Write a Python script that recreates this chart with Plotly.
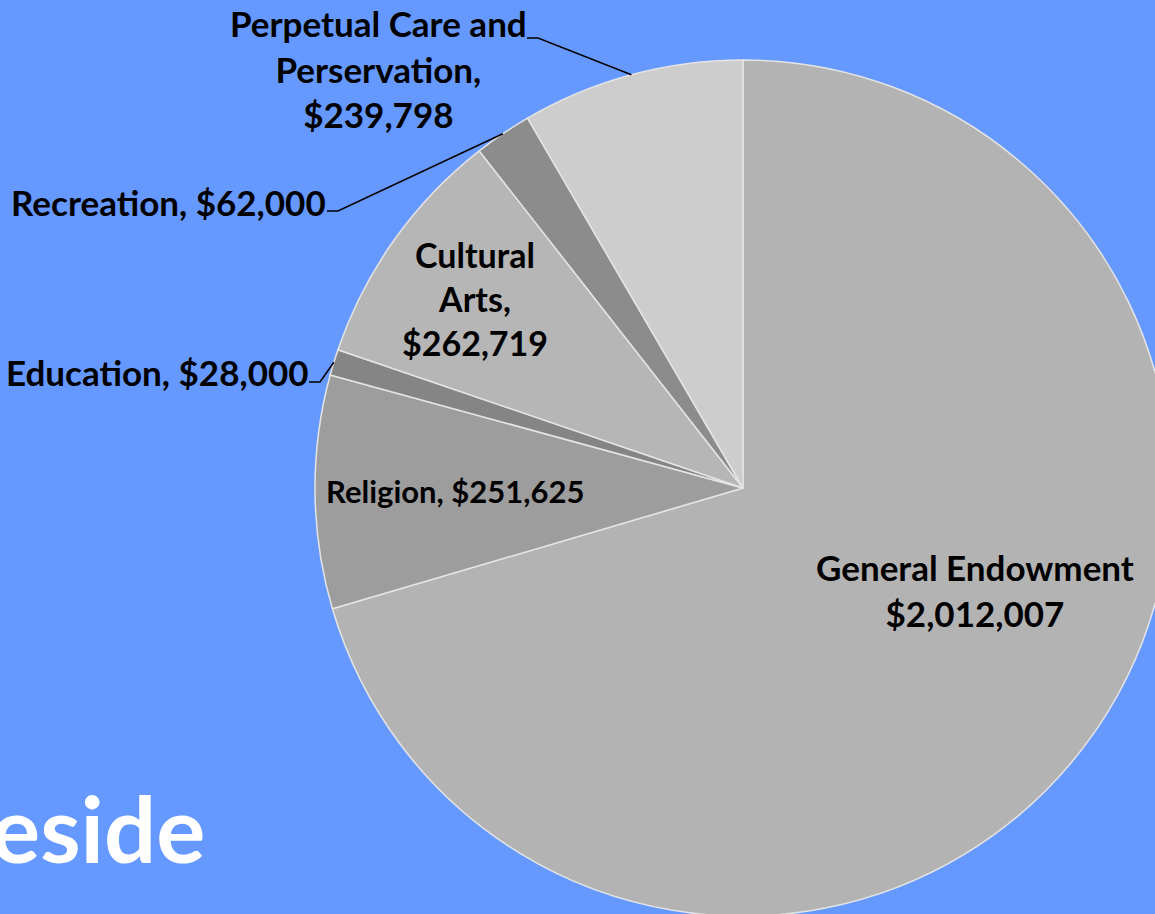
import numpy as np
import plotly.graph_objects as go

# fund data, clockwise from 12 o'clock
funds = ["General Endowment", "Religion", "Education", "Cultural Arts",
         "Recreation", "Perpetual Care and Perservation"]
amounts = [2012007, 251625, 28000, 262719, 62000, 239798]
colors = ["#b3b3b3", "#9d9d9d", "#858585", "#b6b6b6", "#8c8c8c", "#cdcdcd"]

# figure is a bit bigger than the window so the pie runs off the right edge
W, H = 1180, 920
cx, cy, r = 743, 488, 428   # pie centre / radius in px (from top-left)

fig = go.Figure()
fig.add_trace(go.Pie(
    labels=funds,
    values=amounts,
    sort=False,
    direction="clockwise",
    rotation=0,
    textinfo="none",
    hoverinfo="label+value",
    marker=dict(colors=colors, line=dict(color="#e4e4e4", width=1.5)),
    domain=dict(x=[(cx - r) / W, (cx + r) / W],
                y=[(H - cy - r) / H, (H - cy + r) / H]),
    showlegend=False,
))


def px(x, y):
    return x / W, 1 - y / H


def edge_point(i):
    # point on the rim at the middle of slice i
    frac = np.cumsum([0] + amounts) / sum(amounts)
    th = 2 * np.pi * (frac[i] + frac[i + 1]) / 2
    return cx + r * np.sin(th), cy - r * np.cos(th)


def money(v):
    return "${:,}".format(v)

# inside labels: (slice, text, x, y, font size)
inside = [
    (0, f"General Endowment<br>{money(amounts[0])}", 975, 590, 35),
    (1, f"Religion, {money(amounts[1])}", 455, 491, 31),
    (3, f"Cultural<br>Arts,<br>{money(amounts[3])}", 475, 298, 34),
]
for i, txt, x, y, size in inside:
    ax, ay = px(x, y)
    fig.add_annotation(x=ax, y=ay, xref="paper", yref="paper", text=txt,
                       showarrow=False, align="center",
                       font=dict(family="Lato", size=size, color="black", weight="bold"),
                       xanchor="center", yanchor="middle")

# outside labels: (slice, text, text x, text y, leader start x, y)
outside = [
    (5, f"Perpetual Care and<br>Perservation,<br>{money(amounts[5])}", 378, 69, 527, 38),
    (4, f"Recreation, {money(amounts[4])}", 168, 202, 327, 211),
    (2, f"Education, {money(amounts[2])}", 157, 372, 309, 382),
]
for i, txt, x, y, lx, ly in outside:
    ax, ay = px(x, y)
    fig.add_annotation(x=ax, y=ay, xref="paper", yref="paper", text=txt,
                       showarrow=False, align="center",
                       font=dict(family="Lato", size=35, color="black", weight="bold"),
                       xanchor="center", yanchor="middle")
    ex, ey = edge_point(i)
    p = [px(lx, ly), px(lx + 11, ly), px(ex, ey)]
    path = "M {} {} L {} {} L {} {}".format(*[c for pt in p for c in pt])
    fig.add_shape(type="path", path=path, xref="paper", yref="paper",
                  line=dict(color="black", width=1.5))

# slide title peeking in at the bottom left
tx, ty = px(207, 827)
fig.add_annotation(x=tx, y=ty, xref="paper", yref="paper", text="eside",
                   showarrow=False, xanchor="right", yanchor="middle",
                   font=dict(family="Lato", size=92, color="white", weight="bold"))

fig.update_layout(
    width=W, height=H,
    margin=dict(l=0, r=0, t=0, b=0),
    paper_bgcolor="#6699ff",
    plot_bgcolor="#6699ff",
)

fig.write_html("out.html",
               config={"displayModeBar": False},
               post_script="document.body.style.margin='0';"
                           "document.body.style.overflow='hidden';")
